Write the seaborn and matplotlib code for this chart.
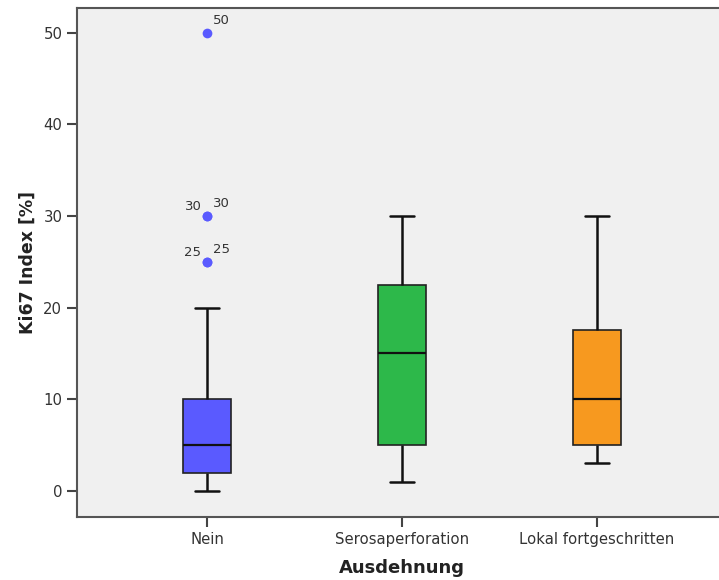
import numpy as np
import pandas as pd
import seaborn as sns
import matplotlib.pyplot as plt

# Ki67 values per group (chosen to reproduce the box statistics)
nein = [0, 0, 1, 1, 2, 2, 2, 2, 3, 3, 4, 5, 5, 5, 5, 5, 6, 8, 10, 10, 10, 10,
        15, 20, 25, 25, 30, 30, 50]
serosa = [1, 3, 5, 10, 15, 20, 22.5, 25, 30]
lokal = [3, 4, 5, 7, 10, 15, 17.5, 25, 30]
groups = ["Nein", "Serosaperforation", "Lokal fortgeschritten"]
colors = ["#5A5AFF", "#2DB84A", "#F7991F"]

df = pd.DataFrame({
    "Ausdehnung": [groups[0]] * len(nein) + [groups[1]] * len(serosa) + [groups[2]] * len(lokal),
    "Ki67": nein + serosa + lokal,
})

sns.set_style("ticks")
plt.rcParams["font.family"] = ["DejaVu Sans"]

fig = plt.figure(figsize=(7.19, 5.8), dpi=100)
ax = fig.add_axes([0.107, 0.1086, 0.904, 0.878])
ax.set_facecolor("#F0F0F0")

sns.boxplot(data=df, x="Ausdehnung", y="Ki67", hue="Ausdehnung", palette=colors,
            order=groups, width=0.25, whis=1.5, saturation=1, legend=False,
            linecolor="#222222", linewidth=1.2, ax=ax,
            medianprops={"color": "#111111", "linewidth": 1.6},
            whiskerprops={"color": "#111111", "linewidth": 1.8},
            capprops={"color": "#111111", "linewidth": 1.8},
            flierprops={"marker": "o", "markerfacecolor": "#5A5AFF",
                        "markeredgecolor": "none", "markersize": 7})

# outlier labels for the "Nein" group
q1, q3 = np.percentile(nein, [25, 75])
outl = sorted(set(v for v in nein if v > q3 + 1.5 * (q3 - q1)))
for v in outl:
    n = nein.count(v)
    ax.annotate(f"{v:g}", (0, v), xytext=(4, 4), textcoords="offset points",
                ha="left", va="bottom", fontsize=9.5, color="#333333")
    if n > 1:
        ax.annotate(f"{v:g}", (0, v), xytext=(-4, 2), textcoords="offset points",
                    ha="right", va="bottom", fontsize=9.5, color="#333333")

ax.set_xlim(-0.667, 2.667)
ax.set_ylim(-2.85, 52.7)
ax.set_yticks([0, 10, 20, 30, 40, 50])
ax.tick_params(axis="both", direction="out", length=7, width=1.5, color="#444444",
               labelsize=10.7, labelcolor="#333333")
for s in ax.spines.values():
    s.set_color("#555555")
    s.set_linewidth(1.5)

ax.set_xlabel("Ausdehnung", fontsize=13, fontweight="bold", color="#222222", labelpad=9)
ax.set_ylabel("Ki67 Index [%]", fontsize=12.5, fontweight="bold", color="#222222", labelpad=5)

fig.savefig("out.png", dpi=100)
